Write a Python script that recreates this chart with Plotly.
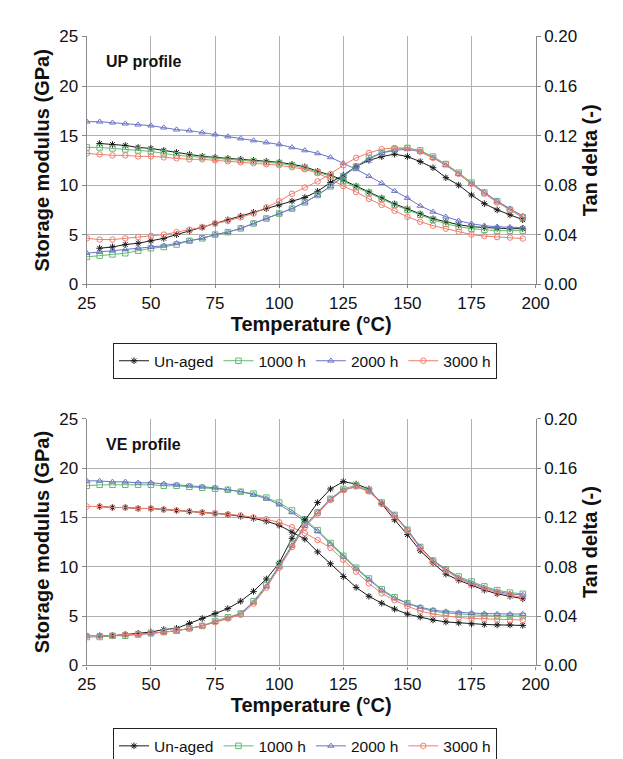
import plotly.graph_objects as go

# ---------------- data ----------------
T_full = list(range(25, 200, 5))      # 25..195
T_unaged = list(range(30, 200, 5))    # 30..195

series_names = ["Un-aged", "1000 h", "2000 h", "3000 h"]

# UP profile - storage modulus (GPa)
up_mod_unaged = [14.2, 14.1, 14.0, 13.8, 13.7, 13.5, 13.3, 13.1, 12.9, 12.8, 12.7, 12.6, 12.5, 12.4,
                 12.3, 12.1, 11.85, 11.4, 11.0, 10.5, 9.9, 9.3, 8.7, 8.1, 7.6, 7.1, 6.6, 6.3, 6.0,
                 5.8, 5.7, 5.65, 5.6, 5.6]
up_mod_1000 = [13.8, 13.8, 13.7, 13.6, 13.5, 13.4, 13.2, 13.0, 12.9, 12.8, 12.7, 12.6, 12.5, 12.4,
               12.3, 12.2, 12.0, 11.7, 11.3, 10.9, 10.4, 9.8, 9.2, 8.6, 8.0, 7.5, 7.0, 6.5, 6.1,
               5.8, 5.6, 5.5, 5.4, 5.4, 5.4]
up_mod_2000 = [16.4, 16.4, 16.3, 16.2, 16.1, 16.0, 15.8, 15.6, 15.5, 15.3, 15.1, 14.9, 14.7, 14.5,
               14.3, 14.1, 13.8, 13.5, 13.2, 12.8, 12.2, 11.6, 10.9, 10.2, 9.4, 8.7, 7.9, 7.3, 6.8,
               6.4, 6.1, 5.9, 5.8, 5.75, 5.7]
up_mod_3000 = [13.2, 13.1, 13.0, 13.0, 12.9, 12.9, 12.8, 12.7, 12.6, 12.6, 12.5, 12.4, 12.3, 12.2,
               12.1, 12.0, 11.8, 11.6, 11.2, 10.6, 9.9, 9.3, 8.6, 8.0, 7.4, 6.8, 6.3, 5.9, 5.6,
               5.3, 5.0, 4.85, 4.75, 4.7, 4.6]

# UP profile - tan delta (-)
up_tan_unaged = [0.029, 0.030, 0.032, 0.033, 0.035, 0.037, 0.040, 0.043, 0.046, 0.049, 0.052, 0.055,
                 0.058, 0.061, 0.064, 0.067, 0.070, 0.075, 0.082, 0.088, 0.095, 0.100, 0.103, 0.105,
                 0.103, 0.099, 0.094, 0.086, 0.080, 0.072, 0.065, 0.060, 0.056, 0.052]
up_tan_1000 = [0.022, 0.023, 0.024, 0.025, 0.027, 0.029, 0.030, 0.032, 0.035, 0.037, 0.040, 0.042,
               0.045, 0.049, 0.053, 0.057, 0.061, 0.066, 0.072, 0.079, 0.087, 0.095, 0.102, 0.106,
               0.109, 0.110, 0.108, 0.103, 0.097, 0.090, 0.082, 0.074, 0.067, 0.060, 0.054]
up_tan_2000 = [0.025, 0.026, 0.027, 0.028, 0.029, 0.030, 0.031, 0.033, 0.035, 0.037, 0.040, 0.042,
               0.045, 0.049, 0.053, 0.057, 0.061, 0.066, 0.072, 0.079, 0.087, 0.095, 0.101, 0.106,
               0.108, 0.109, 0.107, 0.102, 0.096, 0.089, 0.081, 0.074, 0.067, 0.061, 0.055]
up_tan_3000 = [0.037, 0.036, 0.036, 0.037, 0.038, 0.039, 0.040, 0.042, 0.044, 0.046, 0.049, 0.051,
               0.054, 0.057, 0.062, 0.067, 0.073, 0.078, 0.083, 0.089, 0.096, 0.102, 0.106, 0.109,
               0.110, 0.110, 0.107, 0.102, 0.097, 0.089, 0.081, 0.073, 0.066, 0.060, 0.054]

# VE profile - storage modulus (GPa)
ve_mod_unaged = [16.1, 16.0, 16.0, 15.9, 15.9, 15.8, 15.7, 15.6, 15.5, 15.4, 15.3, 15.1, 14.9, 14.6,
                 14.2, 13.5, 12.8, 11.5, 10.3, 9.0, 7.9, 7.0, 6.3, 5.7, 5.2, 4.9, 4.6, 4.4, 4.3,
                 4.2, 4.15, 4.1, 4.1, 4.05]
ve_mod_1000 = [18.2, 18.3, 18.3, 18.3, 18.3, 18.3, 18.2, 18.2, 18.1, 18.0, 17.9, 17.8, 17.6, 17.4,
               17.0, 16.5, 15.7, 14.8, 13.7, 12.4, 11.1, 9.9, 8.8, 7.7, 6.9, 6.3, 5.8, 5.5, 5.3,
               5.2, 5.1, 5.05, 5.0, 5.0, 5.0]
ve_mod_2000 = [18.7, 18.7, 18.6, 18.6, 18.5, 18.5, 18.4, 18.3, 18.2, 18.1, 18.0, 17.8, 17.6, 17.3,
               16.9, 16.3, 15.5, 14.6, 13.6, 12.3, 11.0, 9.8, 8.7, 7.6, 6.8, 6.3, 5.9, 5.6, 5.45,
               5.35, 5.3, 5.25, 5.2, 5.2, 5.2]
ve_mod_3000 = [16.1, 16.1, 16.0, 16.0, 15.9, 15.9, 15.8, 15.7, 15.6, 15.5, 15.4, 15.3, 15.2, 15.0,
               14.8, 14.5, 14.0, 13.4, 12.7, 11.9, 10.7, 9.5, 8.3, 7.3, 6.6, 6.0, 5.5, 5.2, 5.0,
               4.85, 4.75, 4.7, 4.65, 4.6, 4.6]

# VE profile - tan delta (-)
ve_tan_unaged = [0.024, 0.024, 0.025, 0.026, 0.027, 0.029, 0.030, 0.034, 0.038, 0.042, 0.046, 0.052,
                 0.060, 0.070, 0.083, 0.103, 0.118, 0.132, 0.143, 0.149, 0.147, 0.143, 0.131, 0.118,
                 0.106, 0.093, 0.083, 0.074, 0.069, 0.065, 0.061, 0.058, 0.056, 0.054]
ve_tan_1000 = [0.023, 0.023, 0.024, 0.024, 0.025, 0.026, 0.027, 0.028, 0.030, 0.032, 0.036, 0.039,
               0.042, 0.052, 0.065, 0.081, 0.098, 0.114, 0.124, 0.135, 0.143, 0.146, 0.142, 0.132,
               0.122, 0.110, 0.096, 0.085, 0.078, 0.072, 0.068, 0.064, 0.061, 0.059, 0.058]
ve_tan_2000 = [0.024, 0.024, 0.024, 0.025, 0.025, 0.026, 0.027, 0.028, 0.030, 0.032, 0.035, 0.038,
               0.042, 0.051, 0.064, 0.080, 0.097, 0.113, 0.124, 0.135, 0.142, 0.145, 0.141, 0.132,
               0.122, 0.110, 0.096, 0.085, 0.078, 0.071, 0.067, 0.063, 0.060, 0.058, 0.057]
ve_tan_3000 = [0.024, 0.024, 0.024, 0.025, 0.025, 0.026, 0.027, 0.028, 0.030, 0.032, 0.035, 0.038,
               0.041, 0.050, 0.063, 0.079, 0.096, 0.112, 0.123, 0.134, 0.142, 0.145, 0.141, 0.131,
               0.121, 0.109, 0.095, 0.084, 0.077, 0.070, 0.066, 0.062, 0.059, 0.057, 0.055]

x_ticks = [25, 50, 75, 100, 125, 150, 175, 200]
mod_ticks = [0, 5, 10, 15, 20, 25]
tan_ticks = [0.0, 0.04, 0.08, 0.12, 0.16, 0.20]

colors = ["#1a1a1a", "#62bb70", "#6a74c4", "#f27c6e"]
symbols = ["asterisk-open", "square-open", "triangle-up-open", "circle-open"]

FONT = "Liberation Sans, Arial, sans-serif"

fig = go.Figure()

W, H = 623, 759
X0, X1 = 72.5, 538.5
panels = [
    dict(top=20, bot=274, xa="x", ya="y", ya2="y2", legend="legend", leg_y=353, label="UP profile",
         mods=[up_mod_unaged, up_mod_1000, up_mod_2000, up_mod_3000],
         tans=[up_tan_unaged, up_tan_1000, up_tan_2000, up_tan_3000]),
    dict(top=412, bot=665, xa="x2", ya="y3", ya2="y4", legend="legend2", leg_y=748, label="VE profile",
         mods=[ve_mod_unaged, ve_mod_1000, ve_mod_2000, ve_mod_3000],
         tans=[ve_tan_unaged, ve_tan_1000, ve_tan_2000, ve_tan_3000]),
]

for p in panels:
    for i, name in enumerate(series_names):
        xs = T_unaged if i == 0 else T_full
        mk = dict(symbol=symbols[i], size=5.5, color=colors[i], line=dict(width=1, color=colors[i]))
        fig.add_trace(go.Scatter(x=xs, y=p["mods"][i], mode="lines+markers", name=name,
                                 line=dict(color=colors[i], width=1), marker=mk,
                                 xaxis=p["xa"], yaxis=p["ya"], legend=p["legend"], showlegend=True))
        fig.add_trace(go.Scatter(x=xs, y=p["tans"][i], mode="lines+markers", name=name,
                                 line=dict(color=colors[i], width=1), marker=mk,
                                 xaxis=p["xa"], yaxis=p["ya2"], legend=p["legend"], showlegend=False))

def ydom(top, bot):
    return [1 - bot / H, 1 - top / H]

axcol = "#8a8a8a"
gridcol = "#b0b0b0"
tickfont = dict(family=FONT, size=17, color="#111")
titlefont = dict(family=FONT, size=20, color="#111", weight="bold")

layout = dict(
    width=W, height=H, margin=dict(l=0, r=0, t=0, b=0),
    paper_bgcolor="white", plot_bgcolor="white",
    font=dict(family=FONT, color="#111"),
)

xdom = [X0 / W, X1 / W]
for k, p in enumerate(panels):
    xa_name = "xaxis" if k == 0 else "xaxis2"
    ya_name = "yaxis" if k == 0 else "yaxis3"
    ya2_name = "yaxis2" if k == 0 else "yaxis4"
    dom = ydom(p["top"], p["bot"])
    layout[xa_name] = dict(domain=xdom, range=[25, 200], tickvals=x_ticks, showgrid=True,
                           gridcolor=gridcol, gridwidth=1.3, showline=True, linecolor=axcol,
                           linewidth=1.3, ticks="outside", ticklen=3, tickcolor=axcol,
                           tickfont=tickfont, zeroline=False, anchor=p["ya"],
                           title=dict(text="Temperature (°C)", font=titlefont, standoff=4))
    layout[ya_name] = dict(domain=dom, range=[0, 25], tickvals=mod_ticks, showgrid=True,
                           gridcolor=gridcol, gridwidth=1.3, showline=True, linecolor=axcol,
                           linewidth=1.3, ticks="outside", ticklen=4, tickcolor=axcol,
                           tickfont=tickfont, zeroline=False, anchor=p["xa"],
                           title=dict(text="Storage modulus (GPa)", font=titlefont, standoff=4))
    layout[ya2_name] = dict(domain=dom, range=[0, 0.2], tickvals=tan_ticks, tickformat=".2f",
                            overlaying=p["ya"], side="right", showgrid=False, showline=True,
                            linecolor=axcol, linewidth=1.3, ticks="outside", ticklen=4,
                            tickcolor=axcol, tickfont=tickfont, zeroline=False, anchor=p["xa"],
                            title=dict(text="Tan delta (-)", font=titlefont, standoff=6))
    layout[p["legend"]] = dict(orientation="h", x=0.48, xanchor="center", y=1 - p["leg_y"] / H,
                               yanchor="middle", bordercolor="#222", borderwidth=1,
                               bgcolor="white", font=dict(family=FONT, size=15.5, color="#111"),
                               itemwidth=30, tracegroupgap=0)

fig.update_layout(**layout)

for p in panels:
    fig.add_annotation(text="<b>" + p["label"] + "</b>", x=90 / W, y=1 - (p["top"] + 26) / H,
                       xref="paper", yref="paper", xanchor="left", yanchor="middle",
                       showarrow=False, font=dict(family=FONT, size=16, color="#111"))

fig.write_html("out.html")
